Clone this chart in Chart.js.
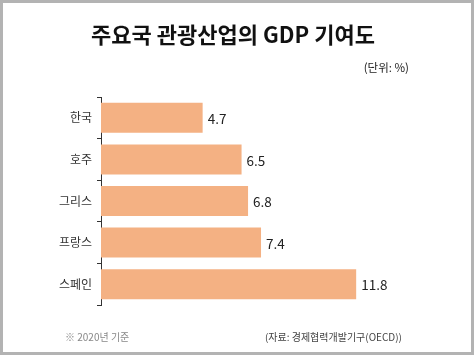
<!DOCTYPE html>
<html><head><meta charset="utf-8">
<script src="https://cdn.jsdelivr.net/npm/chart.js@4"></script>
<style>
html,body{margin:0;padding:0;background:#fff;}
#wrap{position:absolute;left:0;top:0;width:474px;height:355px;}
</style></head>
<body>
<div id="wrap"><canvas id="c" width="474" height="355"></canvas></div>
<script>
const categories = ['한국', '호주', '그리스', '프랑스', '스페인'];
const values = [4.7, 6.5, 6.8, 7.4, 11.8];
const titleText = '주요국 관광산업의 GDP 기여도';
const unitText = '(단위: %)';
const noteText = '※ 2020년 기준';
const sourceText = '(자료: 경제협력개발기구(OECD))';
const FONT = '"Noto Sans CJK KR", "Noto Sans", sans-serif';

const extras = {
  id: 'extras',
  afterDraw(chart) {
    const ctx = chart.ctx;
    ctx.save();
    // border
    ctx.strokeStyle = '#b3b3b3';
    ctx.lineWidth = 3;
    ctx.strokeRect(1.5, 1.5, 471, 352);
    // title
    ctx.fillStyle = '#111';
    ctx.font = 'bold 22px ' + FONT;
    ctx.textAlign = 'center';
    ctx.textBaseline = 'middle';
    ctx.fillText(titleText, 233, 35);
    // unit
    ctx.font = '11.5px ' + FONT;
    ctx.fillStyle = '#222';
    ctx.textAlign = 'right';
    ctx.fillText(unitText, 409, 68);
    // footer
    ctx.font = '10px ' + FONT;
    ctx.textAlign = 'left';
    ctx.fillStyle = '#888';
    ctx.fillText(noteText, 65, 337);
    ctx.fillStyle = '#444';
    ctx.textAlign = 'right';
    ctx.fillText(sourceText, 402, 337);
    // value labels
    const meta = chart.getDatasetMeta(0);
    ctx.font = '13.5px ' + FONT;
    ctx.fillStyle = '#222';
    ctx.textAlign = 'left';
    meta.data.forEach((bar, i) => {
      ctx.fillText(String(values[i]), bar.x + 5, bar.y + 1);
    });
    ctx.restore();
  }
};

new Chart(document.getElementById('c'), {
  type: 'bar',
  data: {
    labels: categories,
    datasets: [{
      data: values,
      backgroundColor: '#f4b183',
      borderWidth: 0,
      barPercentage: 0.72,
      categoryPercentage: 1
    }]
  },
  options: {
    indexAxis: 'y',
    responsive: false,
    animation: false,
    layout: { padding: { top: 97, bottom: 50, left: 0, right: 27 } },
    plugins: { legend: { display: false }, tooltip: { enabled: false } },
    scales: {
      x: { display: false, min: 0, max: 16 },
      y: {
        afterFit(scale) { scale.width = 101; },
        grid: { display: true, drawOnChartArea: false, drawTicks: true, tickLength: 4, color: '#333', offset: true },
        border: { display: true, color: '#333', width: 1 },
        ticks: { color: '#333', padding: 5, font: { size: 12, family: FONT } }
      }
    }
  },
  plugins: [extras]
});
</script>
</body></html>
